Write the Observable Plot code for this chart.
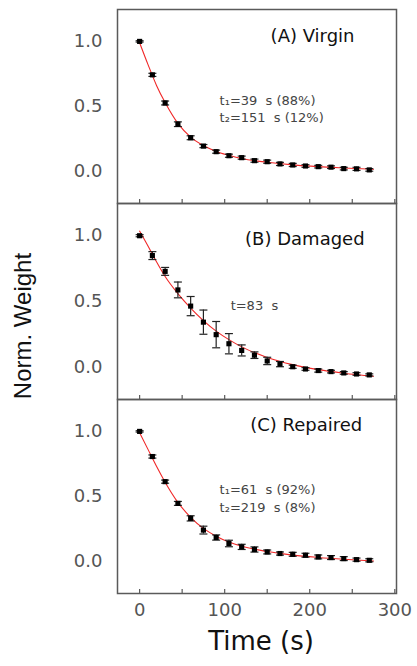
<!DOCTYPE html>
<html>
<head>
<meta charset="utf-8">
<script src="https://cdn.jsdelivr.net/npm/d3@7"></script>
<script src="https://cdn.jsdelivr.net/npm/@observablehq/plot@0.6"></script>
<style>
  html, body { margin: 0; padding: 0; background: white; }
  #wrap { position: relative; width: 417px; height: 666px; overflow: hidden; background: white; }
  #wrap svg { position: absolute; left: 0; }
  #wrap svg text { white-space: pre; }
  #ylab { position: absolute; left: 23px; top: 326px; transform: translate(-50%, -50%) rotate(-90deg);
          white-space: nowrap; font-family: "Liberation Sans", Arial, sans-serif; font-size: 24px; color: #111; }
</style>
</head>
<body>
<div id="wrap"><div id="ylab">Norm. Weight</div></div>
<script>
// ---- data ----
const time = [0, 15, 30, 45, 60, 75, 90, 105, 120, 135, 150, 165, 180, 195, 210, 225, 240, 255, 270];

const weightA = [1.0, 0.743, 0.527, 0.364, 0.26, 0.196, 0.153, 0.122, 0.107, 0.084, 0.076, 0.059, 0.051, 0.043, 0.038, 0.034, 0.023, 0.021, 0.013];
const errA    = [0.005, 0.012, 0.015, 0.018, 0.015, 0.012, 0.012, 0.012, 0.012, 0.012, 0.012, 0.012, 0.012, 0.01, 0.01, 0.01, 0.01, 0.012, 0.01];

const weightB = [1.0, 0.849, 0.729, 0.588, 0.465, 0.343, 0.248, 0.179, 0.128, 0.092, 0.048, 0.024, 0.004, -0.013, -0.025, -0.033, -0.043, -0.051, -0.058];
const errB    = [0.008, 0.03, 0.03, 0.06, 0.073, 0.092, 0.1, 0.077, 0.042, 0.025, 0.028, 0.02, 0.012, 0.01, 0.012, 0.01, 0.01, 0.01, 0.008];

const weightC = [1.0, 0.807, 0.614, 0.447, 0.332, 0.242, 0.185, 0.139, 0.113, 0.093, 0.074, 0.062, 0.056, 0.049, 0.036, 0.031, 0.023, 0.015, 0.010];
const errC    = [0.005, 0.012, 0.012, 0.015, 0.02, 0.03, 0.02, 0.025, 0.02, 0.02, 0.015, 0.012, 0.015, 0.015, 0.015, 0.015, 0.015, 0.012, 0.012];

// red fit curves
const fitTime = [0, 10, 20, 30, 45, 60, 75, 90, 105, 120, 150, 180, 210, 240, 275];
const fitA = [0.99, 0.82, 0.66, 0.53, 0.37, 0.265, 0.2, 0.155, 0.125, 0.1, 0.072, 0.052, 0.038, 0.028, 0.018];
const fitB = [1.035, 0.92, 0.8, 0.69, 0.56, 0.45, 0.355, 0.275, 0.21, 0.155, 0.075, 0.02, -0.018, -0.045, -0.068];
const fitC = [0.99, 0.86, 0.73, 0.61, 0.455, 0.34, 0.255, 0.195, 0.15, 0.118, 0.077, 0.05, 0.032, 0.018, 0.005];

const titles = ["(A) Virgin", "(B) Damaged", "(C) Repaired"];
const notesA = ["t\u2081=39  s (88%)", "t\u2082=151  s (12%)"];
const notesB = ["t=83  s"];
const notesC = ["t\u2081=61  s (92%)", "t\u2082=219  s (8%)"];

const xTicks = [0, 50, 100, 150, 200, 250, 300];
const xLabels = [0, 100, 200, 300];
const yTicks = [0, 0.5, 1.0];
const xLabel = "Time (s)";

// ---- drawing ----
const capSymbol = {
  draw(context, size) {
    const h = Math.sqrt(size / Math.PI);
    context.moveTo(-h, 0);
    context.lineTo(h, 0);
  }
};

function panel({weight, err, fit, title, notes, top, height, marginTop, marginBottom, titlePos, notePos, bottom}) {
  const rows = time.map((t, i) => ({t, w: weight[i], e: err[i]}));
  const fitRows = fitTime.map((t, i) => ({t, w: fit[i]}));
  const noteRows = notes.map((text, i) => ({text, x: notePos.x, y: notePos.y[i]}));
  const frameH = height - marginTop - marginBottom;
  const marks = [
    Plot.frame({stroke: "#5a5a5a", strokeWidth: 1.5}),
    Plot.tickX(xTicks, {x: d => d, insetTop: frameH - 4, stroke: "#5a5a5a", strokeWidth: 1.2}),
    Plot.axisY({ticks: yTicks, tickSize: 0, tickPadding: 15, tickFormat: d3.format(".1f"), label: null,
                fill: "#555", fontSize: 18}),
    Plot.line(fitRows, {x: "t", y: "w", curve: "monotone-x", stroke: "#f02828", strokeWidth: 1.1}),
    Plot.ruleX(rows, {x: "t", y1: d => d.w - d.e, y2: d => d.w + d.e, stroke: "#222", strokeWidth: 1.2}),
    Plot.dot(rows, {x: "t", y: d => d.w + d.e, symbol: capSymbol, r: 4, stroke: "#222", strokeWidth: 1.2, fill: "none"}),
    Plot.dot(rows, {x: "t", y: d => d.w - d.e, symbol: capSymbol, r: 4, stroke: "#222", strokeWidth: 1.2, fill: "none"}),
    Plot.dot(rows, {x: "t", y: "w", symbol: "square", r: 2.9, fill: "#000", stroke: "none"}),
    Plot.text([title], {x: titlePos.x, y: titlePos.y, text: d => d, textAnchor: "start", fontSize: 18,
                        fill: "#111", style: "letter-spacing:1.2px"}),
    Plot.text(noteRows, {x: "x", y: "y", text: "text", textAnchor: "start", fontSize: 13, fill: "#444"})
  ];
  if (bottom) {
    marks.push(Plot.axisX({ticks: xLabels, tickSize: 0, tickPadding: 10, label: null, fill: "#555", fontSize: 18}));
    marks.push(Plot.text([xLabel], {frameAnchor: "bottom", text: d => d, dy: 56, dx: 4, fontSize: 26,
                                    fill: "#111", fontFamily: "DejaVu Sans", style: "letter-spacing:3px"}));
  }
  const svg = Plot.plot({
    width: 417, height, marginLeft: 117, marginRight: 21, marginTop, marginBottom,
    x: {domain: [-26, 302], axis: null},
    y: {domain: [-0.245, 1.245], axis: null},
    style: {fontFamily: "DejaVu Sans", fontSize: "18px", background: "none", overflow: "visible"},
    marks
  });
  svg.style.top = top + "px";
  return svg;
}

const wrap = document.getElementById("wrap");
wrap.appendChild(panel({weight: weightA, err: errA, fit: fitA, title: titles[0], notes: notesA,
  top: 0, height: 204, marginTop: 9, marginBottom: 1,
  titlePos: {x: 154, y: 1.043}, notePos: {x: 94, y: [0.547, 0.41]}}));
wrap.appendChild(panel({weight: weightB, err: errB, fit: fitB, title: titles[1], notes: notesB,
  top: 202, height: 198, marginTop: 1, marginBottom: 1,
  titlePos: {x: 124, y: 0.97}, notePos: {x: 107, y: [0.465]}}));
wrap.appendChild(panel({weight: weightC, err: errC, fit: fitC, title: titles[2], notes: notesC,
  top: 398, height: 268, marginTop: 1, marginBottom: 73,
  titlePos: {x: 130, y: 1.044}, notePos: {x: 94, y: [0.55, 0.41]}, bottom: true}));
</script>
</body>
</html>
